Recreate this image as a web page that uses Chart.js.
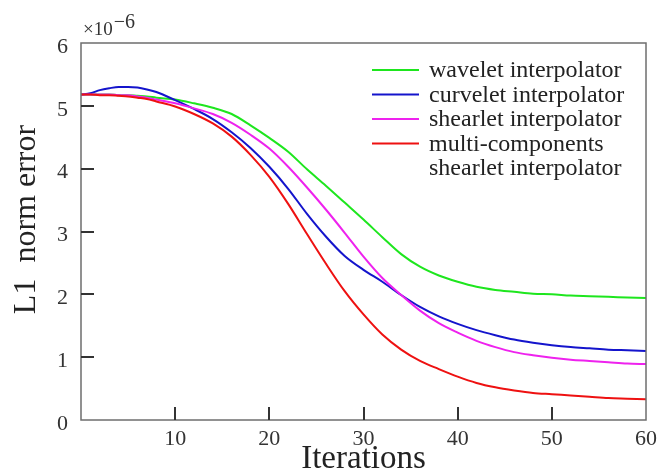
<!DOCTYPE html>
<html>
<head>
<meta charset="utf-8">
<script src="https://cdn.jsdelivr.net/npm/chart.js@4.4.0/dist/chart.umd.min.js"></script>
<style>
html,body{margin:0;padding:0;background:#fff;}
#wrap{width:667px;height:473px;position:relative;}
</style>
</head>
<body>
<div id="wrap"><canvas id="c" width="667" height="473"></canvas></div>
<script>
// Iteration numbers (x) and L1 norm error values (in units of 1e-6)
const iterations = [0,1,2,3,4,5,6,7,8,10,12,14,16,18,20,22,24,26,28,30,32,34,36,38,40,42,44,46,48,50,52,54,56,58,60];
const wavelet   = [5.18,5.18,5.18,5.18,5.17,5.17,5.16,5.15,5.13,5.10,5.04,4.97,4.87,4.69,4.49,4.27,3.99,3.73,3.46,3.19,2.91,2.64,2.44,2.30,2.20,2.12,2.07,2.04,2.01,2.00,1.98,1.97,1.96,1.95,1.94];
const curvelet  = [5.18,5.20,5.25,5.28,5.30,5.30,5.29,5.26,5.22,5.09,4.95,4.79,4.58,4.33,4.03,3.68,3.28,2.92,2.61,2.39,2.20,1.99,1.80,1.65,1.53,1.43,1.35,1.28,1.23,1.19,1.16,1.14,1.12,1.11,1.10];
const shearlet  = [5.18,5.18,5.18,5.18,5.17,5.17,5.15,5.13,5.10,5.04,4.96,4.87,4.73,4.54,4.32,4.03,3.70,3.35,2.98,2.60,2.26,1.99,1.74,1.54,1.39,1.26,1.16,1.08,1.03,0.99,0.96,0.94,0.92,0.90,0.89];
const multiComp = [5.18,5.18,5.17,5.17,5.16,5.15,5.13,5.11,5.07,4.99,4.87,4.72,4.51,4.22,3.87,3.44,2.96,2.49,2.05,1.68,1.36,1.12,0.94,0.81,0.69,0.59,0.52,0.47,0.43,0.41,0.39,0.37,0.35,0.34,0.33];

const seriesLabels = [
  ['wavelet interpolator'],
  ['curvelet interpolator'],
  ['shearlet interpolator'],
  ['multi-components', 'shearlet interpolator']
];
const seriesColors = ['#1ee61e', '#1414cc', '#ee22ee', '#ee1111'];
const xTickValues = [0,10,20,30,40,50,60];
const yTickValues = [0,1,2,3,4,5,6];
const xTitle = 'Iterations';
const yTitle = '   L1  norm error';
const exponentBase = '\u00d710';
const exponentPower = '\u22126';

const SERIF = '"Liberation Serif", "Times New Roman", serif';
const seriesValues = [wavelet, curvelet, shearlet, multiComp];

const datasets = seriesValues.map((vals, k) => ({
  label: seriesLabels[k].join(' '),
  data: iterations.map((x, i) => ({x: x, y: vals[i]})),
  borderColor: seriesColors[k],
  backgroundColor: seriesColors[k],
  borderWidth: 2,
  pointRadius: 0,
  fill: false,
  cubicInterpolationMode: 'monotone'
})).reverse();

const framePlugin = {
  id: 'frame',
  afterDraw(chart) {
    const {ctx, chartArea: a, scales} = chart;
    const xs = scales.x, ys = scales.y;
    ctx.save();
    // box
    ctx.strokeStyle = '#6e6e6e';
    ctx.lineWidth = 1.5;
    ctx.strokeRect(a.left, a.top, a.right - a.left, a.bottom - a.top);
    // inward ticks
    ctx.strokeStyle = '#333';
    ctx.lineWidth = 2;
    ctx.beginPath();
    yTickValues.forEach(v => {
      if (v <= ys.min || v >= ys.max) return;
      const y = Math.round(ys.getPixelForValue(v));
      ctx.moveTo(a.left, y); ctx.lineTo(a.left + 13, y);
    });
    xTickValues.forEach(v => {
      if (v <= xs.min || v >= xs.max) return;
      const x = Math.round(xs.getPixelForValue(v));
      ctx.moveTo(x, a.bottom); ctx.lineTo(x, a.bottom - 13);
    });
    ctx.stroke();

    // exponent label
    ctx.fillStyle = '#333';
    ctx.textBaseline = 'alphabetic';
    ctx.textAlign = 'left';
    ctx.font = '19px ' + SERIF;
    const ex = a.left + 2;
    ctx.fillText(exponentBase, ex, a.top - 8);
    const w = ctx.measureText(exponentBase).width;
    ctx.font = '20px ' + SERIF;
    ctx.fillText(exponentPower, ex + w + 1, a.top - 15);

    // legend
    const lx = a.left + 291;
    let ly = a.top + 27;
    const rowH = 24.5;
    ctx.font = '24px ' + SERIF;
    seriesLabels.forEach((lines, k) => {
      ctx.strokeStyle = seriesColors[k];
      ctx.lineWidth = 2;
      ctx.beginPath();
      ctx.moveTo(lx, ly); ctx.lineTo(lx + 47, ly);
      ctx.stroke();
      ctx.fillStyle = '#222';
      lines.forEach((t, j) => {
        ctx.fillText(t, lx + 57, ly + 7 + j * rowH);
      });
      ly += rowH * lines.length;
    });
    ctx.restore();
  }
};

new Chart(document.getElementById('c'), {
  type: 'line',
  data: {datasets},
  options: {
    responsive: false,
    animation: false,
    devicePixelRatio: 1,
    layout: {padding: {top: 43, right: 21, left: 0, bottom: 0}},
    plugins: {legend: {display: false}, tooltip: {enabled: false}},
    scales: {
      x: {
        type: 'linear', min: 0, max: 60,
        afterBuildTicks: s => { s.ticks = xTickValues.map(v => ({value: v})); },
        ticks: {
          callback: v => (v === 0 ? '' : String(v)),
          font: {family: SERIF, size: 22},
          color: '#333', padding: 6, maxRotation: 0, autoSkip: false
        },
        grid: {display: false, drawTicks: false},
        border: {display: false},
        title: {display: true, text: xTitle, color: '#222',
                font: {family: SERIF, size: 33, lineHeight: 1},
                padding: {top: 0, bottom: -3}},
        afterFit: s => { s.height = 53; }
      },
      y: {
        type: 'linear', min: 0, max: 6,
        afterBuildTicks: s => { s.ticks = yTickValues.map(v => ({value: v})); },
        ticks: {
          font: {family: SERIF, size: 22},
          color: '#333', padding: 13, labelOffset: 4
        },
        grid: {display: false, drawTicks: false},
        border: {display: false},
        title: {display: true, text: yTitle, color: '#222',
                font: {family: SERIF, size: 32, lineHeight: 1},
                padding: {top: 11, bottom: 0}},
        afterFit: s => { s.width = 81; }
      }
    }
  },
  plugins: [framePlugin]
});
</script>
</body>
</html>
